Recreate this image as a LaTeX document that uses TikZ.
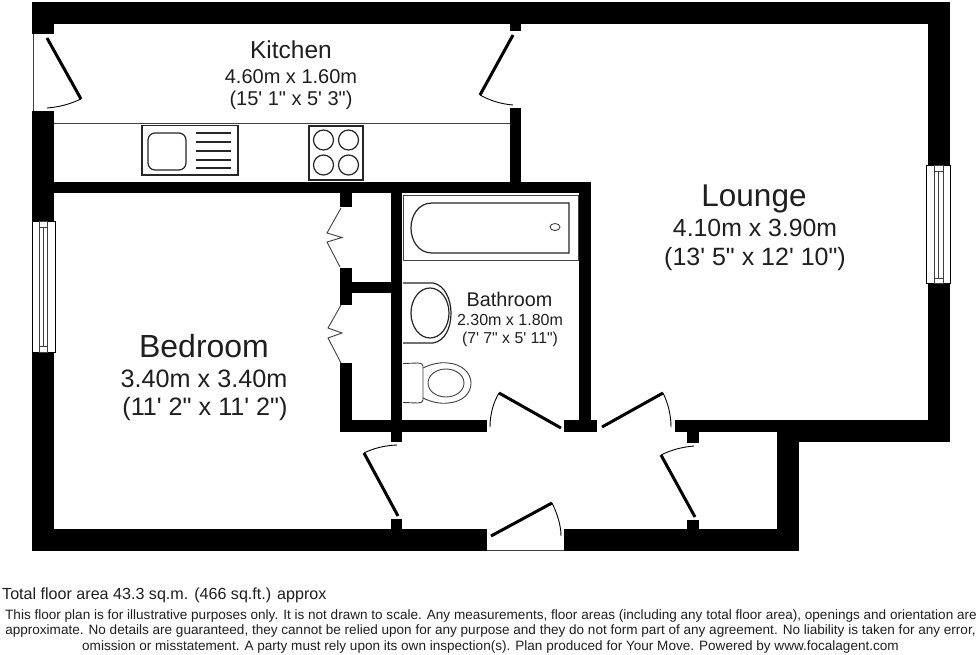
\documentclass[tikz,border=0pt]{standalone}
\usepackage{fontspec}
\newfontfamily\lib{Liberation Sans}
\tikzset{
 wall/.style={fill=black},
 leaf/.style={draw=black,line width=3pt},
 swing/.style={draw=black,line width=0.9pt},
 fixture/.style={draw=black!85,line width=1.2pt},
 pale/.style={draw=black!75,line width=0.9pt},
 lbl/.style={inner sep=0pt,anchor=base,text=black!88,font=\lib},
 foot/.style={inner sep=0pt,anchor=base,text=black!88,font=\lib\fontsize{13.55}{13.55}\selectfont},
}
\newcommand{\fs}[1]{\fontsize{#1}{#1}\selectfont}
\begin{document}
\begin{tikzpicture}[x=1pt,y=-1pt]
\useasboundingbox (0,0) rectangle (980,654);
\fill[white] (0,0) rectangle (980,654);
% outer walls
\fill[wall] (32,2) rectangle (949,24);
\fill[wall] (32,2) rectangle (54,34);
\fill[wall] (32,111) rectangle (54,222);
\fill[wall] (32,352) rectangle (54,551);
\fill[wall] (32,529) rectangle (487,551);
\fill[wall] (564,529) rectangle (799,551);
\fill[wall] (777,420) rectangle (799,551);
\fill[wall] (777,420) rectangle (949.5,442);
\fill[wall] (927.5,2) rectangle (949.5,165);
\fill[wall] (927.5,283) rectangle (949.5,442);
\fill[wall] (675,420) rectangle (777,431.5);
% inner walls
\fill[wall] (509.5,24) rectangle (521,31);
\fill[wall] (509.5,108) rectangle (521,182);
\fill[wall] (54,182) rectangle (590.5,193);
\fill[wall] (390.5,193) rectangle (402,442);
\fill[wall] (579,182) rectangle (590.5,431.5);
\fill[wall] (564,420) rectangle (597,431.5);
\fill[wall] (340,420) rectangle (487,431.5);
\fill[wall] (340,363) rectangle (351.5,431.5);
\fill[wall] (340,193) rectangle (351.5,207);
\fill[wall] (340,268) rectangle (351.5,305);
\fill[wall] (351.5,282) rectangle (391,293);
\fill[wall] (687,431) rectangle (699,443);
\fill[wall] (687,520) rectangle (699,530);
\fill[wall] (390.5,519) rectangle (402,530);
% thin thresholds
\draw[pale] (33,34) -- (33,111);
\draw[pale] (487,550.3) -- (564,550.3);
\draw[pale] (54,123) -- (509.5,123);
% doors
\draw[leaf] (47,38) -- (81,99);
\draw[swing] (81,99) .. controls (70,104) and (60,107) .. (47,108);
\draw[leaf] (513,35) -- (480,95);
\draw[swing] (480,95) .. controls (489,100) and (500,104) .. (513,105);
\draw[leaf] (561,428) -- (499,393);
\draw[swing] (499,393) .. controls (493,403) and (490,415) .. (490,427);
\draw[leaf] (602,427) -- (663,393);
\draw[swing] (663,393) .. controls (668,403) and (671,415) .. (671,427);
\draw[leaf] (398,516) -- (364,453);
\draw[swing] (364,453) .. controls (374,448) and (385,445.5) .. (397,445);
\draw[leaf] (695,517) -- (661,455);
\draw[swing] (661,455) .. controls (671,450) and (682,447) .. (694,446);
\draw[leaf] (491,536) -- (552,503);
\draw[swing] (552,503) .. controls (557,513) and (561,525) .. (561,536);
% wardrobe bifold doors
\draw[pale] (341,208) -- (327,233) -- (342,237.5) -- (327,242) -- (340,267);
\draw[pale] (341,305) -- (328,328) -- (342,333) -- (328,338) -- (341,363);
% windows
\draw[pale,draw=black,fill=white] (32,221) rectangle (55,352);
\draw[pale,fill=white] (39.5,221) rectangle (47.5,352);
\draw[pale] (39.5,227) rectangle (47.5,346);
\draw[pale] (43.7,227) -- (43.7,346);
\draw[pale,draw=black,fill=white] (926,165) rectangle (950.5,283);
\draw[pale,fill=white] (934,165) rectangle (943,283);
\draw[pale] (934,171) rectangle (943,278);
\draw[pale] (938.5,171) -- (938.5,278);
% sink
\draw[fixture] (142,125.5) rectangle (238,175);
\draw[fixture,rounded corners=7pt] (148,133) rectangle (186,170);
\foreach \yy in {133,142,151,160,168} \draw[fixture] (196,\yy) -- (231,\yy);
% hob
\draw[fixture] (309,126) rectangle (363,180);
\foreach \cx/\cy in {323.5/140,348.5/140,323.5/165,348.5/165}
  \draw[fixture] (\cx,\cy) circle[radius=10];
% bath
\draw[pale] (403,195) rectangle (578,260);
\draw[fixture] (569,203) -- (432,203) .. controls (418,203) and (411,216) .. (411,228)
  .. controls (411,240) and (418,253) .. (432,253) -- (569,253) -- cycle;
\draw[pale] (555,227) ellipse[x radius=5,y radius=3.5];
% basin
\draw[fixture] (403,283) -- (433,283) .. controls (445,285) and (451,300) .. (451,313)
  .. controls (451,328) and (445,341) .. (433,343) -- (403,343);
\draw[fixture] (430,313) ellipse[x radius=19,y radius=25];
% toilet
\draw[pale] (403,363.5) -- (418,363) .. controls (421,363) and (423,364) .. (423,366) -- (423,400)
  .. controls (423,402) and (421,403) .. (418,403) -- (403,402.5);
\draw[pale] (423,368) .. controls (431,364) and (440,362) .. (448,363)
  .. controls (462,364) and (471,373) .. (471,383)
  .. controls (471,394) and (462,402) .. (448,403) .. controls (440,404) and (431,402) .. (423,398);
\draw[pale] (446,383) ellipse[x radius=18,y radius=14];
% labels
\node[lbl] (kitchenname) at (291,58.5) {\fs{24.5}Kitchen};
\node[lbl] (kitchensize) at (291,83) {\fs{20}4.60m x 1.60m};
\node[lbl] (kitchenimp) at (291,105) {\fs{20}(15' 1" x 5' 3")};
\node[lbl] (loungename) at (754,206) {\fs{31.5}Lounge};
\node[lbl] (loungesize) at (755,236) {\fs{24.8}4.10m x 3.90m};
\node[lbl] (loungeimp) at (755,265) {\fs{25}(13' 5" x 12' 10")};
\node[lbl] (bedroomname) at (204,357) {\fs{32}Bedroom};
\node[lbl] (bedroomsize) at (204,387) {\fs{25.2}3.40m x 3.40m};
\node[lbl] (bedroomimp) at (205,415) {\fs{25.2}(11' 2" x 11' 2")};
\node[lbl] (bathname) at (509.5,306) {\fs{19.8}Bathroom};
\node[lbl] (bathsize) at (510,325) {\fs{16}2.30m x 1.80m};
\node[lbl] (bathimp) at (510,343) {\fs{15.8}(7' 7" x 5' 11")};
\node[lbl,anchor=base west] (total) at (2,599.5) {\fs{16.1}Total floor area 43.3 sq.m. (466 sq.ft.) approx};
\node[foot] (line1) at (491,619) {This floor plan is for illustrative purposes only. It is not drawn to scale. Any measurements, floor areas (including any total floor area), openings and orientation are};
\node[foot] (line2) at (490.5,634.5) {approximate. No details are guaranteed, they cannot be relied upon for any purpose and they do not form part of any agreement. No liability is taken for any error,};
\node[foot] (line3) at (490.5,650) {omission or misstatement. A party must rely upon its own inspection(s). Plan produced for Your Move. Powered by www.focalagent.com};
\end{tikzpicture}
\end{document}
